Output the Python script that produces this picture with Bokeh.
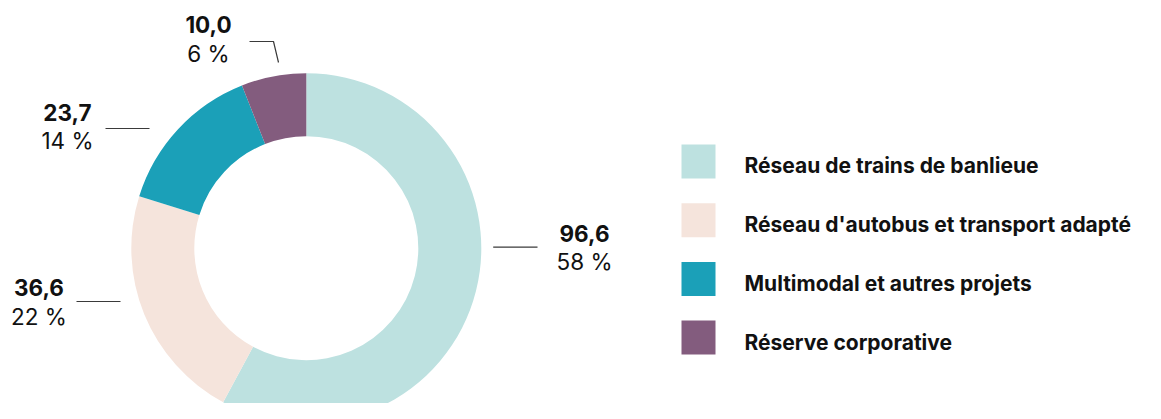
from bokeh.plotting import figure
from bokeh.models import Range1d, ColumnDataSource
from bokeh.core.properties import value
from bokeh.embed import file_html
from bokeh.resources import INLINE
import math

# ---------------- data ----------------
categories = ["Réseau de trains de banlieue",
              "Réseau d'autobus et transport adapté",
              "Multimodal et autres projets",
              "Réserve corporative"]
values = [96.6, 36.6, 23.7, 10.0]
colors = ["#BDE1E0", "#F5E4DC", "#1BA0B8", "#835C7E"]

# ---------------- layout (screen px, y down) ----------------
W, H = 1145, 403
FONT = "Inter"
CX, CY = 305.8, 247.7
R_OUT, R_IN = 175, 112
BASE_FIX = 0.36  # svg baseline correction, in em

def sy(y):
    return 419 - y

p = figure(width=W, height=H, output_backend="svg", toolbar_location=None,
           x_range=Range1d(0, W), y_range=Range1d(419 - H, 419),
           min_border=0)
p.axis.visible = False
p.grid.visible = False
p.outline_line_color = None
p.background_fill_color = "white"

total = sum(values)
fracs = [v / total for v in values]
starts, ends = [], []
cum = 0.0
for f in fracs:
    # clockwise from 12 o'clock
    ends.append(math.pi / 2 - 2 * math.pi * cum)
    cum += f
    starts.append(math.pi / 2 - 2 * math.pi * cum)

src = ColumnDataSource(dict(x=[CX] * len(values), y=[sy(CY)] * len(values),
                            start=starts, end=ends, color=colors))
p.annular_wedge(x="x", y="y", inner_radius=R_IN, outer_radius=R_OUT,
                start_angle="start", end_angle="end", direction="anticlock",
                fill_color="color", line_color=None, source=src)

# label placement per category: (center x, bold baseline y, leader polyline)
label_layout = [
    (584, 241, [(492.7, 246.7), (537, 246.7)]),
    (38.5, 295.5, [(76, 301), (120, 301)]),
    (67, 120, [(105, 128), (149, 128)]),
    (208, 32.5, [(249, 41), (273, 41), (278, 62)]),
]
FS = 22.5
for v, f, (lx, lb, pts) in zip(values, fracs, label_layout):
    p.line([q[0] for q in pts], [sy(q[1]) for q in pts], line_color="#3a3a3a", line_width=1.2)
    p.text(x=[lx], y=[sy(lb - BASE_FIX * FS)], text=[f"{v:.1f}".replace(".", ",")],
           text_font=value(FONT), text_font_style="bold", text_font_size=f"{FS}px",
           text_color="#111111", text_align="center", text_baseline="alphabetic")
    p.text(x=[lx], y=[sy(lb + 28.5 - BASE_FIX * FS)], text=[f"{round(100 * f)} %"],
           text_font=value(FONT), text_font_size=f"{FS}px",
           text_color="#111111", text_align="center", text_baseline="alphabetic")

# legend
LX, LY0, LSTEP, LSQ = 681, 161, 58.7, 34
LFS = 21
leg = ColumnDataSource(dict(
    x=[LX + LSQ / 2] * len(categories),
    y=[sy(LY0 + i * LSTEP) for i in range(len(categories))],
    ty=[sy(LY0 + i * LSTEP + 12 - BASE_FIX * LFS) for i in range(len(categories))],
    tx=[744] * len(categories),
    label=categories, color=colors))
p.rect(x="x", y="y", width=LSQ, height=LSQ, fill_color="color", line_color=None, source=leg)
p.text(x="tx", y="ty", text="label", source=leg, text_font=value(FONT),
       text_font_style="bold", text_font_size=f"{LFS}px", text_color="#111111",
       text_align="left", text_baseline="alphabetic")

open("out.html", "w").write(file_html(p, INLINE))
